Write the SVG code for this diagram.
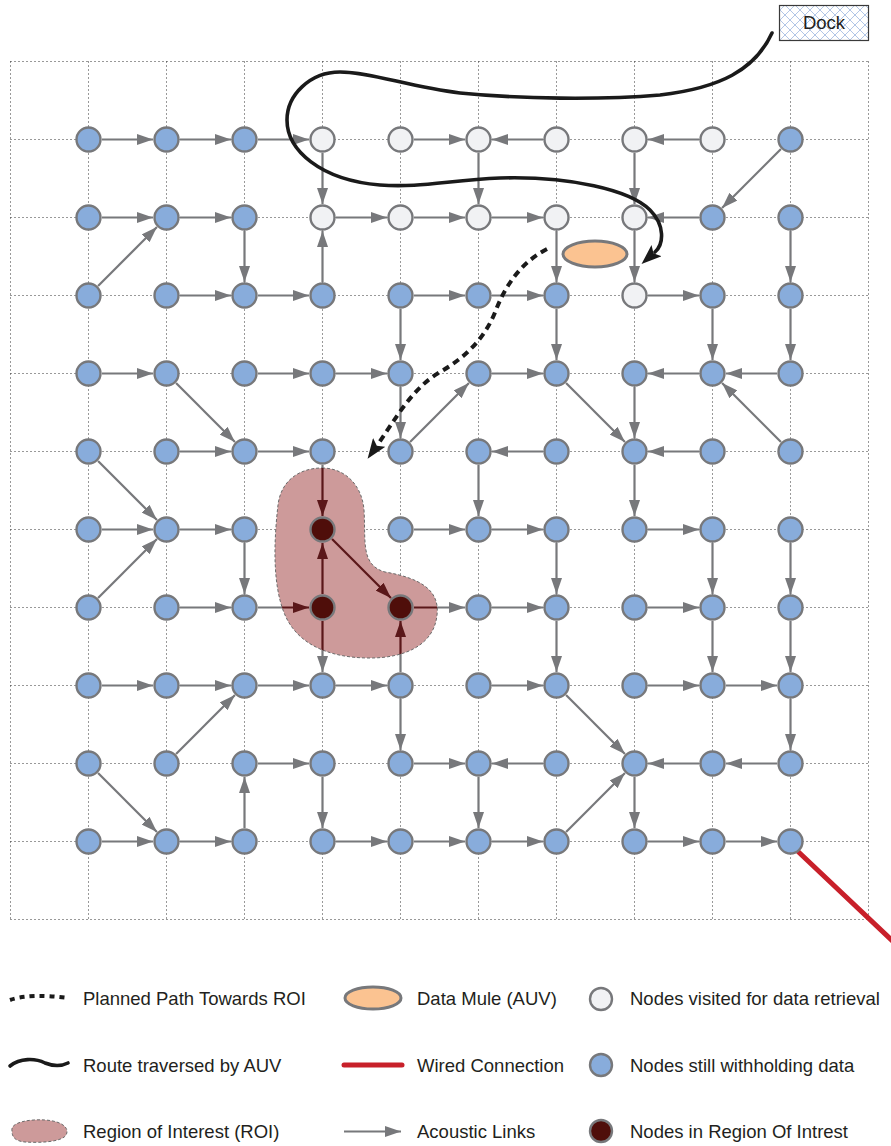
<svg xmlns="http://www.w3.org/2000/svg" width="891" height="1146" viewBox="0 0 891 1146">
<style>
.grid{stroke:#333333;stroke-width:1;stroke-dasharray:1 3;fill:none}
.links line{stroke:#77787b;stroke-width:2.2;marker-end:url(#a)}
.dk line{stroke:#5a1719;stroke-width:2.2;marker-end:url(#ad)}
.nd{stroke:#77787b;stroke-width:2.4}
.b{fill:#88acdb}.w{fill:#f1f2f4}.d{fill:#4f0e0a}
.roi{fill:#cd9a9a;stroke:#6a6a6a;stroke-width:1;stroke-dasharray:3 2}
.route{fill:none;stroke:#1a1a1a;stroke-width:3.6;stroke-linecap:round}
.plan{fill:none;stroke:#1a1a1a;stroke-width:4;stroke-dasharray:7 5}
.mule{fill:#fbc391;stroke:#77787b;stroke-width:3}
.wire{stroke:#c8202a;stroke-width:5;stroke-linecap:round}
text{font-family:"Liberation Sans",Arial,sans-serif;font-size:18.5px;fill:#231f20}
</style>
<defs>
<marker id="a" viewBox="0 0 16 11" refX="16" refY="5.5" markerWidth="16" markerHeight="11" markerUnits="userSpaceOnUse" orient="auto"><path d="M0,0 L16,5.5 L0,11 Z" fill="#77787b"/></marker>
<marker id="ad" viewBox="0 0 16 11" refX="16" refY="5.5" markerWidth="16" markerHeight="11" markerUnits="userSpaceOnUse" orient="auto"><path d="M0,0 L16,5.5 L0,11 Z" fill="#5a1719"/></marker>
<marker id="big" viewBox="0 0 20 15" refX="2" refY="7.5" markerWidth="20" markerHeight="15" markerUnits="userSpaceOnUse" orient="auto"><path d="M0,0 L20,7.5 L0,15 L4,7.5 Z" fill="#1a1a1a"/></marker>
<pattern id="hatch" width="10" height="10" patternUnits="userSpaceOnUse"><rect width="10" height="10" fill="#ffffff"/><path d="M0,0 L10,10 M10,0 L0,10" stroke="#a9bfe3" stroke-width="0.9"/></pattern>
<clipPath id="roiclip"><path d="M322,468 C345,468 362,485 364,510 C366,540 360,565 385,572 C420,578 440,590 437,615 C434,645 405,658 370,658 C330,658 298,645 285,615 C272,585 274,540 278,505 C281,480 300,468 322,468 Z"/></clipPath>
</defs>
<rect width="891" height="1146" fill="#ffffff"/>
<g id="grid" class="grid">
<path d="M10.5,61.5V919.5M88.5,61.5V919.5M166.5,61.5V919.5M244.5,61.5V919.5M322.5,61.5V919.5M400.5,61.5V919.5M478.5,61.5V919.5M556.5,61.5V919.5M634.5,61.5V919.5M712.5,61.5V919.5M790.5,61.5V919.5M868.5,61.5V919.5"/>
<path d="M10.5,61.5H868.5M10.5,139.5H868.5M10.5,217.5H868.5M10.5,295.5H868.5M10.5,373.5H868.5M10.5,451.5H868.5M10.5,529.5H868.5M10.5,607.5H868.5M10.5,685.5H868.5M10.5,763.5H868.5M10.5,841.5H868.5M10.5,919.5H868.5"/>
</g>
<g id="wired"><line class="wire" x1="798" y1="851.5" x2="900" y2="948"/></g>
<g id="connectors" class="links">
<line x1="102" y1="139.5" x2="153" y2="139.5"/>
<line x1="180" y1="139.5" x2="231" y2="139.5"/>
<line x1="258" y1="139.5" x2="309" y2="139.5"/>
<line x1="414" y1="139.5" x2="465" y2="139.5"/>
<line x1="543" y1="139.5" x2="492" y2="139.5"/>
<line x1="699" y1="139.5" x2="648" y2="139.5"/>
<line x1="322.5" y1="153" x2="322.5" y2="204"/>
<line x1="478.5" y1="153" x2="478.5" y2="204"/>
<line x1="634.5" y1="153" x2="634.5" y2="204"/>
<line x1="780.95" y1="149.05" x2="722.05" y2="207.95"/>
<line x1="102" y1="217.5" x2="153" y2="217.5"/>
<line x1="180" y1="217.5" x2="231" y2="217.5"/>
<line x1="336" y1="217.5" x2="387" y2="217.5"/>
<line x1="414" y1="217.5" x2="465" y2="217.5"/>
<line x1="492" y1="217.5" x2="543" y2="217.5"/>
<line x1="699" y1="217.5" x2="648" y2="217.5"/>
<line x1="244.5" y1="231" x2="244.5" y2="282"/>
<line x1="322.5" y1="282" x2="322.5" y2="231"/>
<line x1="556.5" y1="231" x2="556.5" y2="282"/>
<line x1="634.5" y1="231" x2="634.5" y2="282"/>
<line x1="790.5" y1="231" x2="790.5" y2="282"/>
<line x1="98.05" y1="285.95" x2="156.95" y2="227.05"/>
<line x1="180" y1="295.5" x2="231" y2="295.5"/>
<line x1="258" y1="295.5" x2="309" y2="295.5"/>
<line x1="414" y1="295.5" x2="465" y2="295.5"/>
<line x1="492" y1="295.5" x2="543" y2="295.5"/>
<line x1="648" y1="295.5" x2="699" y2="295.5"/>
<line x1="400.5" y1="309" x2="400.5" y2="360"/>
<line x1="556.5" y1="309" x2="556.5" y2="360"/>
<line x1="712.5" y1="309" x2="712.5" y2="360"/>
<line x1="790.5" y1="309" x2="790.5" y2="360"/>
<line x1="102" y1="373.5" x2="153" y2="373.5"/>
<line x1="258" y1="373.5" x2="309" y2="373.5"/>
<line x1="336" y1="373.5" x2="387" y2="373.5"/>
<line x1="492" y1="373.5" x2="543" y2="373.5"/>
<line x1="699" y1="373.5" x2="648" y2="373.5"/>
<line x1="777" y1="373.5" x2="726" y2="373.5"/>
<line x1="176.05" y1="383.05" x2="234.95" y2="441.95"/>
<line x1="400.5" y1="387" x2="400.5" y2="438"/>
<line x1="410.05" y1="441.95" x2="468.95" y2="383.05"/>
<line x1="566.05" y1="383.05" x2="624.95" y2="441.95"/>
<line x1="634.5" y1="387" x2="634.5" y2="438"/>
<line x1="780.95" y1="441.95" x2="722.05" y2="383.05"/>
<line x1="180" y1="451.5" x2="231" y2="451.5"/>
<line x1="258" y1="451.5" x2="309" y2="451.5"/>
<line x1="543" y1="451.5" x2="492" y2="451.5"/>
<line x1="699" y1="451.5" x2="648" y2="451.5"/>
<line x1="98.05" y1="461.05" x2="156.95" y2="519.95"/>
<line x1="322.5" y1="465" x2="322.5" y2="516"/>
<line x1="478.5" y1="465" x2="478.5" y2="516"/>
<line x1="634.5" y1="465" x2="634.5" y2="516"/>
<line x1="102" y1="529.5" x2="153" y2="529.5"/>
<line x1="180" y1="529.5" x2="231" y2="529.5"/>
<line x1="414" y1="529.5" x2="465" y2="529.5"/>
<line x1="492" y1="529.5" x2="543" y2="529.5"/>
<line x1="648" y1="529.5" x2="699" y2="529.5"/>
<line x1="98.05" y1="597.95" x2="156.95" y2="539.05"/>
<line x1="244.5" y1="543" x2="244.5" y2="594"/>
<line x1="322.5" y1="594" x2="322.5" y2="543"/>
<line x1="332.05" y1="539.05" x2="390.95" y2="597.95"/>
<line x1="556.5" y1="543" x2="556.5" y2="594"/>
<line x1="712.5" y1="543" x2="712.5" y2="594"/>
<line x1="790.5" y1="543" x2="790.5" y2="594"/>
<line x1="180" y1="607.5" x2="231" y2="607.5"/>
<line x1="258" y1="607.5" x2="309" y2="607.5"/>
<line x1="414" y1="607.5" x2="465" y2="607.5"/>
<line x1="492" y1="607.5" x2="543" y2="607.5"/>
<line x1="648" y1="607.5" x2="699" y2="607.5"/>
<line x1="322.5" y1="621" x2="322.5" y2="672"/>
<line x1="400.5" y1="672" x2="400.5" y2="621"/>
<line x1="556.5" y1="621" x2="556.5" y2="672"/>
<line x1="712.5" y1="621" x2="712.5" y2="672"/>
<line x1="790.5" y1="621" x2="790.5" y2="672"/>
<line x1="102" y1="685.5" x2="153" y2="685.5"/>
<line x1="180" y1="685.5" x2="231" y2="685.5"/>
<line x1="258" y1="685.5" x2="309" y2="685.5"/>
<line x1="336" y1="685.5" x2="387" y2="685.5"/>
<line x1="492" y1="685.5" x2="543" y2="685.5"/>
<line x1="648" y1="685.5" x2="699" y2="685.5"/>
<line x1="726" y1="685.5" x2="777" y2="685.5"/>
<line x1="176.05" y1="753.95" x2="234.95" y2="695.05"/>
<line x1="400.5" y1="699" x2="400.5" y2="750"/>
<line x1="566.05" y1="695.05" x2="624.95" y2="753.95"/>
<line x1="790.5" y1="699" x2="790.5" y2="750"/>
<line x1="258" y1="763.5" x2="309" y2="763.5"/>
<line x1="414" y1="763.5" x2="465" y2="763.5"/>
<line x1="543" y1="763.5" x2="492" y2="763.5"/>
<line x1="699" y1="763.5" x2="648" y2="763.5"/>
<line x1="777" y1="763.5" x2="726" y2="763.5"/>
<line x1="98.05" y1="773.05" x2="156.95" y2="831.95"/>
<line x1="244.5" y1="828" x2="244.5" y2="777"/>
<line x1="322.5" y1="777" x2="322.5" y2="828"/>
<line x1="478.5" y1="777" x2="478.5" y2="828"/>
<line x1="566.05" y1="831.95" x2="624.95" y2="773.05"/>
<line x1="634.5" y1="777" x2="634.5" y2="828"/>
<line x1="102" y1="841.5" x2="153" y2="841.5"/>
<line x1="180" y1="841.5" x2="231" y2="841.5"/>
<line x1="336" y1="841.5" x2="387" y2="841.5"/>
<line x1="414" y1="841.5" x2="465" y2="841.5"/>
<line x1="492" y1="841.5" x2="543" y2="841.5"/>
<line x1="648" y1="841.5" x2="699" y2="841.5"/>
<line x1="726" y1="841.5" x2="777" y2="841.5"/>
</g>
<g id="roi"><path class="roi" d="M322,468 C345,468 362,485 364,510 C366,540 360,565 385,572 C420,578 440,590 437,615 C434,645 405,658 370,658 C330,658 298,645 285,615 C272,585 274,540 278,505 C281,480 300,468 322,468 Z"/></g>
<g id="roi-links" class="dk" clip-path="url(#roiclip)">
<line x1="322.5" y1="465" x2="322.5" y2="516"/>
<line x1="322.5" y1="594" x2="322.5" y2="543"/>
<line x1="332.05" y1="539.05" x2="390.95" y2="597.95"/>
<line x1="258" y1="607.5" x2="309" y2="607.5"/>
<line x1="414" y1="607.5" x2="465" y2="607.5"/>
<line x1="322.5" y1="621" x2="322.5" y2="672"/>
<line x1="400.5" y1="672" x2="400.5" y2="621"/>
</g>
<g id="nodes">
<g id="n0-0"><circle class="nd b" cx="88.5" cy="139.5" r="12"/></g>
<g id="n0-1"><circle class="nd b" cx="166.5" cy="139.5" r="12"/></g>
<g id="n0-2"><circle class="nd b" cx="244.5" cy="139.5" r="12"/></g>
<g id="n0-3"><circle class="nd w" cx="322.5" cy="139.5" r="12"/></g>
<g id="n0-4"><circle class="nd w" cx="400.5" cy="139.5" r="12"/></g>
<g id="n0-5"><circle class="nd w" cx="478.5" cy="139.5" r="12"/></g>
<g id="n0-6"><circle class="nd w" cx="556.5" cy="139.5" r="12"/></g>
<g id="n0-7"><circle class="nd w" cx="634.5" cy="139.5" r="12"/></g>
<g id="n0-8"><circle class="nd w" cx="712.5" cy="139.5" r="12"/></g>
<g id="n0-9"><circle class="nd b" cx="790.5" cy="139.5" r="12"/></g>
<g id="n1-0"><circle class="nd b" cx="88.5" cy="217.5" r="12"/></g>
<g id="n1-1"><circle class="nd b" cx="166.5" cy="217.5" r="12"/></g>
<g id="n1-2"><circle class="nd b" cx="244.5" cy="217.5" r="12"/></g>
<g id="n1-3"><circle class="nd w" cx="322.5" cy="217.5" r="12"/></g>
<g id="n1-4"><circle class="nd w" cx="400.5" cy="217.5" r="12"/></g>
<g id="n1-5"><circle class="nd w" cx="478.5" cy="217.5" r="12"/></g>
<g id="n1-6"><circle class="nd w" cx="556.5" cy="217.5" r="12"/></g>
<g id="n1-7"><circle class="nd w" cx="634.5" cy="217.5" r="12"/></g>
<g id="n1-8"><circle class="nd b" cx="712.5" cy="217.5" r="12"/></g>
<g id="n1-9"><circle class="nd b" cx="790.5" cy="217.5" r="12"/></g>
<g id="n2-0"><circle class="nd b" cx="88.5" cy="295.5" r="12"/></g>
<g id="n2-1"><circle class="nd b" cx="166.5" cy="295.5" r="12"/></g>
<g id="n2-2"><circle class="nd b" cx="244.5" cy="295.5" r="12"/></g>
<g id="n2-3"><circle class="nd b" cx="322.5" cy="295.5" r="12"/></g>
<g id="n2-4"><circle class="nd b" cx="400.5" cy="295.5" r="12"/></g>
<g id="n2-5"><circle class="nd b" cx="478.5" cy="295.5" r="12"/></g>
<g id="n2-6"><circle class="nd b" cx="556.5" cy="295.5" r="12"/></g>
<g id="n2-7"><circle class="nd w" cx="634.5" cy="295.5" r="12"/></g>
<g id="n2-8"><circle class="nd b" cx="712.5" cy="295.5" r="12"/></g>
<g id="n2-9"><circle class="nd b" cx="790.5" cy="295.5" r="12"/></g>
<g id="n3-0"><circle class="nd b" cx="88.5" cy="373.5" r="12"/></g>
<g id="n3-1"><circle class="nd b" cx="166.5" cy="373.5" r="12"/></g>
<g id="n3-2"><circle class="nd b" cx="244.5" cy="373.5" r="12"/></g>
<g id="n3-3"><circle class="nd b" cx="322.5" cy="373.5" r="12"/></g>
<g id="n3-4"><circle class="nd b" cx="400.5" cy="373.5" r="12"/></g>
<g id="n3-5"><circle class="nd b" cx="478.5" cy="373.5" r="12"/></g>
<g id="n3-6"><circle class="nd b" cx="556.5" cy="373.5" r="12"/></g>
<g id="n3-7"><circle class="nd b" cx="634.5" cy="373.5" r="12"/></g>
<g id="n3-8"><circle class="nd b" cx="712.5" cy="373.5" r="12"/></g>
<g id="n3-9"><circle class="nd b" cx="790.5" cy="373.5" r="12"/></g>
<g id="n4-0"><circle class="nd b" cx="88.5" cy="451.5" r="12"/></g>
<g id="n4-1"><circle class="nd b" cx="166.5" cy="451.5" r="12"/></g>
<g id="n4-2"><circle class="nd b" cx="244.5" cy="451.5" r="12"/></g>
<g id="n4-3"><circle class="nd b" cx="322.5" cy="451.5" r="12"/></g>
<g id="n4-4"><circle class="nd b" cx="400.5" cy="451.5" r="12"/></g>
<g id="n4-5"><circle class="nd b" cx="478.5" cy="451.5" r="12"/></g>
<g id="n4-6"><circle class="nd b" cx="556.5" cy="451.5" r="12"/></g>
<g id="n4-7"><circle class="nd b" cx="634.5" cy="451.5" r="12"/></g>
<g id="n4-8"><circle class="nd b" cx="712.5" cy="451.5" r="12"/></g>
<g id="n4-9"><circle class="nd b" cx="790.5" cy="451.5" r="12"/></g>
<g id="n5-0"><circle class="nd b" cx="88.5" cy="529.5" r="12"/></g>
<g id="n5-1"><circle class="nd b" cx="166.5" cy="529.5" r="12"/></g>
<g id="n5-2"><circle class="nd b" cx="244.5" cy="529.5" r="12"/></g>
<g id="n5-3"><circle class="nd d" cx="322.5" cy="529.5" r="12"/></g>
<g id="n5-4"><circle class="nd b" cx="400.5" cy="529.5" r="12"/></g>
<g id="n5-5"><circle class="nd b" cx="478.5" cy="529.5" r="12"/></g>
<g id="n5-6"><circle class="nd b" cx="556.5" cy="529.5" r="12"/></g>
<g id="n5-7"><circle class="nd b" cx="634.5" cy="529.5" r="12"/></g>
<g id="n5-8"><circle class="nd b" cx="712.5" cy="529.5" r="12"/></g>
<g id="n5-9"><circle class="nd b" cx="790.5" cy="529.5" r="12"/></g>
<g id="n6-0"><circle class="nd b" cx="88.5" cy="607.5" r="12"/></g>
<g id="n6-1"><circle class="nd b" cx="166.5" cy="607.5" r="12"/></g>
<g id="n6-2"><circle class="nd b" cx="244.5" cy="607.5" r="12"/></g>
<g id="n6-3"><circle class="nd d" cx="322.5" cy="607.5" r="12"/></g>
<g id="n6-4"><circle class="nd d" cx="400.5" cy="607.5" r="12"/></g>
<g id="n6-5"><circle class="nd b" cx="478.5" cy="607.5" r="12"/></g>
<g id="n6-6"><circle class="nd b" cx="556.5" cy="607.5" r="12"/></g>
<g id="n6-7"><circle class="nd b" cx="634.5" cy="607.5" r="12"/></g>
<g id="n6-8"><circle class="nd b" cx="712.5" cy="607.5" r="12"/></g>
<g id="n6-9"><circle class="nd b" cx="790.5" cy="607.5" r="12"/></g>
<g id="n7-0"><circle class="nd b" cx="88.5" cy="685.5" r="12"/></g>
<g id="n7-1"><circle class="nd b" cx="166.5" cy="685.5" r="12"/></g>
<g id="n7-2"><circle class="nd b" cx="244.5" cy="685.5" r="12"/></g>
<g id="n7-3"><circle class="nd b" cx="322.5" cy="685.5" r="12"/></g>
<g id="n7-4"><circle class="nd b" cx="400.5" cy="685.5" r="12"/></g>
<g id="n7-5"><circle class="nd b" cx="478.5" cy="685.5" r="12"/></g>
<g id="n7-6"><circle class="nd b" cx="556.5" cy="685.5" r="12"/></g>
<g id="n7-7"><circle class="nd b" cx="634.5" cy="685.5" r="12"/></g>
<g id="n7-8"><circle class="nd b" cx="712.5" cy="685.5" r="12"/></g>
<g id="n7-9"><circle class="nd b" cx="790.5" cy="685.5" r="12"/></g>
<g id="n8-0"><circle class="nd b" cx="88.5" cy="763.5" r="12"/></g>
<g id="n8-1"><circle class="nd b" cx="166.5" cy="763.5" r="12"/></g>
<g id="n8-2"><circle class="nd b" cx="244.5" cy="763.5" r="12"/></g>
<g id="n8-3"><circle class="nd b" cx="322.5" cy="763.5" r="12"/></g>
<g id="n8-4"><circle class="nd b" cx="400.5" cy="763.5" r="12"/></g>
<g id="n8-5"><circle class="nd b" cx="478.5" cy="763.5" r="12"/></g>
<g id="n8-6"><circle class="nd b" cx="556.5" cy="763.5" r="12"/></g>
<g id="n8-7"><circle class="nd b" cx="634.5" cy="763.5" r="12"/></g>
<g id="n8-8"><circle class="nd b" cx="712.5" cy="763.5" r="12"/></g>
<g id="n8-9"><circle class="nd b" cx="790.5" cy="763.5" r="12"/></g>
<g id="n9-0"><circle class="nd b" cx="88.5" cy="841.5" r="12"/></g>
<g id="n9-1"><circle class="nd b" cx="166.5" cy="841.5" r="12"/></g>
<g id="n9-2"><circle class="nd b" cx="244.5" cy="841.5" r="12"/></g>
<g id="n9-3"><circle class="nd b" cx="322.5" cy="841.5" r="12"/></g>
<g id="n9-4"><circle class="nd b" cx="400.5" cy="841.5" r="12"/></g>
<g id="n9-5"><circle class="nd b" cx="478.5" cy="841.5" r="12"/></g>
<g id="n9-6"><circle class="nd b" cx="556.5" cy="841.5" r="12"/></g>
<g id="n9-7"><circle class="nd b" cx="634.5" cy="841.5" r="12"/></g>
<g id="n9-8"><circle class="nd b" cx="712.5" cy="841.5" r="12"/></g>
<g id="n9-9"><circle class="nd b" cx="790.5" cy="841.5" r="12"/></g>
</g>
<g id="dock"><rect x="779.5" y="5.5" width="89" height="35" fill="url(#hatch)" stroke="#3a3a3a" stroke-width="1.2"/><text x="824" y="29" text-anchor="middle">Dock</text></g>
<g id="auv-route"><path class="route" marker-end="url(#big)" d="M772,33 C755,70 720,88 660,95 C600,100 520,99 460,93 C410,87 370,72 340,72 C310,72 287,95 287,120 C287,150 320,180 380,185 C420,188 450,180 500,178 C570,176 630,190 650,210 C665,225 664,244 655,252"/></g>
<g id="planned-path"><path class="plan" marker-end="url(#big)" d="M547,249 C522,262 506,284 496,310 C486,336 468,356 440,372 C412,388 395,420 378,444"/></g>
<g id="data-mule"><ellipse class="mule" cx="595" cy="254" rx="32" ry="13"/></g>
<g id="legend">
<path d="M10,1000 C25,995 45,995 68,998" fill="none" stroke="#1a1a1a" stroke-width="4" stroke-dasharray="5 5"/>
<text x="83" y="1005">Planned Path Towards ROI</text>
<ellipse class="mule" cx="373" cy="998" rx="28" ry="11"/>
<text x="417" y="1005">Data Mule (AUV)</text>
<circle class="nd w" cx="601" cy="999" r="11"/>
<text x="630" y="1005">Nodes visited for data retrieval</text>
<path class="route" stroke-width="4.5" d="M10,1066 C20,1058 35,1058 45,1063 C55,1067 62,1066 68,1063"/>
<text x="83" y="1072">Route traversed by AUV</text>
<line class="wire" x1="344" y1="1065" x2="402" y2="1065"/>
<text x="417" y="1072">Wired Connection</text>
<circle class="nd b" cx="601" cy="1065" r="11"/>
<text x="630" y="1072">Nodes still withholding data</text>
<path class="roi" d="M12,1131 C10,1122 30,1119 45,1120 C62,1121 70,1128 66,1135 C62,1142 40,1143 25,1142 C14,1141 12,1136 12,1131 Z"/>
<text x="83" y="1138">Region of Interest (ROI)</text>
<line x1="344" y1="1131.5" x2="401" y2="1131.5" stroke="#77787b" stroke-width="2.2" marker-end="url(#a)"/>
<text x="417" y="1138">Acoustic Links</text>
<circle class="nd d" cx="601" cy="1131" r="11"/>
<text x="630" y="1138">Nodes in Region Of Intrest</text>
</g>
</svg>
